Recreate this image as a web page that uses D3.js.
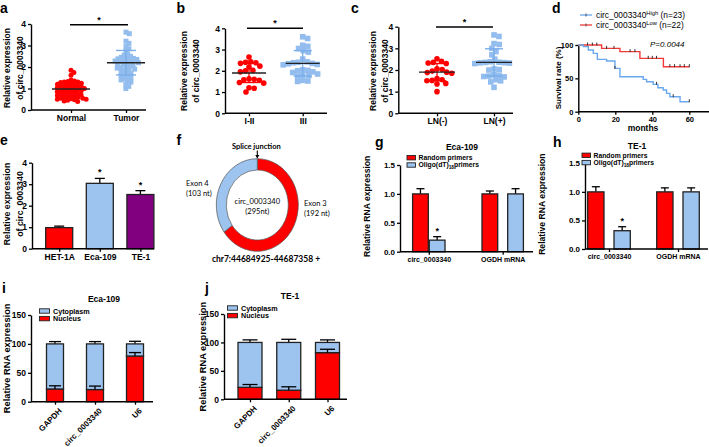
<!DOCTYPE html>
<html><head><meta charset="utf-8">
<script src="https://cdn.jsdelivr.net/npm/d3@7"></script>
<style>
body{margin:0;background:#fff}
svg{display:block}
</style></head><body>
<svg id="c" width="709" height="447"></svg>
<script>
// ---------------- DATA ----------------
// a
const aCats = ["Normal", "Tumor"];
const aNormal = [1.85,1.75,1.62,1.4,1.35,1.32,1.3,1.28,1.25,1.22,1.2,1.18,1.15,1.12,1.1,1.08,1.05,1.03,1.0,1.0,0.98,0.95,0.93,0.9,0.88,0.85,0.82,0.8,0.78,0.75,0.72,0.7,0.68,0.65,0.62,0.6,0.58,0.55,0.52,0.5,0.5,0.48,0.45,0.42,0.4,1.3,1.1,0.9,0.7,0.55];
const aTumor = [3.62,3.55,3.2,3.1,2.95,2.85,2.75,2.6,2.55,2.5,2.45,2.42,2.4,2.38,2.35,2.3,2.28,2.25,2.22,2.2,2.18,2.15,2.1,2.05,2.0,1.98,1.95,1.9,1.85,1.8,1.75,1.7,1.65,1.6,1.55,1.5,1.45,1.4,1.35,1.3,1.2,1.1,1.0,2.3,2.1,1.9];
const aMean = [0.98, 2.2];
const aSD = [0.32, 0.57];
// b
const bCats = ["I-II", "III"];
const bLow = [2.65,2.42,2.4,2.38,2.35,2.22,2.18,2.02,2.0,1.95,1.62,1.6,1.58,1.55,1.45,1.42,1.2,1.18,1.0];
const bHigh = [3.6,3.52,3.2,3.15,3.05,2.95,2.88,2.55,2.42,2.4,2.38,2.35,2.33,2.3,2.28,2.05,2.02,2.0,1.95,1.92,1.85,1.8,1.78,1.75,1.55,1.52,1.5];
const bMean = [1.9, 2.35];
const bSD = [0.45, 0.6];
// c
const cCats = ["LN(-)", "LN(+)"];
const cNeg = [2.52,2.4,2.35,2.32,2.3,2.05,2.02,1.95,1.9,1.88,1.85,1.6,1.55,1.52,1.5,1.38,1.35,1.0];
const cPos = [3.62,3.55,3.22,3.18,3.0,2.85,2.7,2.5,2.38,2.36,2.35,2.34,2.33,2.32,2.3,2.05,2.02,2.0,1.78,1.75,1.72,1.7,1.68,1.55,1.5,1.45,1.2];
const cMean = [1.9, 2.35];
const cSD = [0.4, 0.63];
// d
const kmHighTimes = [0,2.7,5.4,8.1,10.3,15.3,19.8,22.5,35.1,36.9,40.5,43,45.9,47.7,49.5,55];
const kmHighSurv  = [100,97.5,92.5,87.5,78.5,76,65,52.5,48.5,45,41,36,32.5,27.5,22.5,15];
const kmHighCensor = [19.8,42.3,51.3,60];
const kmLowTimes = [0,12.6,22.5,33.3,46];
const kmLowSurv  = [100,95,90,80,67.5];
const kmLowCensor = [5,7.6,10,15.3,19.3,28,30.6,37.8,40,42.3,49.5,52,55,57.3,60];
const kmEnd = 60;
// e
const eCats = ["HET-1A", "Eca-109", "TE-1"];
const eVals = [0.98, 3.04, 2.52];
const eErr = [0.07, 0.23, 0.18];
const eSig = [false, true, true];
// f
const exonNames = ["Exon 3", "Exon 4"];
const exonLen = [192, 103];
// g, h
const rnaCats = ["circ_0003340", "OGDH mRNA"];
const gRandom = [1.0, 1.0], gRandomErr = [0.09, 0.05];
const gOligo = [0.2, 1.0], gOligoErr = [0.06, 0.09];
const hRandom = [1.0, 1.0], hRandomErr = [0.09, 0.07];
const hOligo = [0.32, 1.0], hOligoErr = [0.07, 0.07];
// i, j
const fracCats = ["GAPDH", "circ_0003340", "U6"];
const iNucleus = [22, 21, 79], iNucleusErr = [5.5, 6, 6];
const iCyto = [78, 79, 21], iCytoErr = [4, 4, 4.5];
const jNucleus = [21, 16, 82], jNucleusErr = [5, 6, 6];
const jCyto = [79, 84, 18], jCytoErr = [4.5, 5.5, 4.5];

// ---------------- STYLE ----------------
const F = "'Liberation Sans', Arial, Helvetica, sans-serif";
const FC = "Lato, 'Open Sans', sans-serif";
const RED = "#FF0000", BLUE = "#9DC3EF", PURPLE = "#800080";
const BLUE_PT = "#93BDEE", BLUE_LINE = "#79AEEA";
const KM_BLUE = "#6AA8EE", KM_RED = "#F03A3A";

const svg = d3.select("#c");
svg.append("rect").attr("width",709).attr("height",447).attr("fill","#fff");

function txt(x, y, s, o = {}) {
  return svg.append("text").attr("x", x).attr("y", y).text(s)
    .attr("font-family", o.ff || F).attr("font-size", o.fs || 9)
    .attr("font-weight", o.fw || "normal").attr("text-anchor", o.anchor || "start")
    .attr("font-style", o.style || "normal").attr("fill", o.fill || "#000");
}
function panelLabel(x, y, s) { txt(x, y, s, {fs: 14, fw: "bold"}); }
function yLabel(cx, cy, lines, fs, gap) {
  lines.forEach((l, i) => {
    svg.append("text").attr("transform", `translate(${cx + i * gap},${cy}) rotate(-90)`)
      .attr("text-anchor", "middle").attr("dy", "0.36em").attr("font-family", F)
      .attr("font-size", fs).attr("font-weight", "bold").text(l);
  });
}
function yAxis(x, scale, ticks, fmt, fs) {
  const ax = d3.axisLeft(scale).tickValues(ticks).tickSize(3).tickSizeOuter(0).tickPadding(2);
  if (fmt) ax.tickFormat(fmt);
  const g = svg.append("g").attr("transform", `translate(${x},0)`).call(ax);
  g.attr("font-family", F).attr("font-size", fs).attr("font-weight", "bold");
  g.select(".domain").attr("stroke-width", 1.4);
  g.selectAll(".tick line").attr("stroke-width", 1.3);
  return g;
}
function xAxis(y, x0, x1, scale, fs, rotate) {
  svg.append("line").attr("x1", x0).attr("x2", x1).attr("y1", y).attr("y2", y)
    .attr("stroke", "#000").attr("stroke-width", 1.4);
  const ax = d3.axisBottom(scale).tickSize(3).tickSizeOuter(0).tickPadding(2);
  const g = svg.append("g").attr("transform", `translate(0,${y})`).call(ax);
  g.select(".domain").remove();
  g.attr("font-family", F).attr("font-size", fs).attr("font-weight", "bold");
  g.selectAll(".tick line").attr("stroke-width", 1.3);
  if (rotate) {
    g.selectAll(".tick text").attr("text-anchor", "end").attr("x", -2).attr("y", 9)
      .attr("dy", "0.35em").attr("transform", "rotate(-45)");
  }
  return g;
}
function star(x, y, fs = 10) { txt(x, y + 4, "*", {fs, fw: "bold", anchor: "middle"}); }

// beeswarm layout (deterministic)
function swarm(values, y, d) {
  const pts = values.map(v => ({v, y: y(v), x: 0})).sort((a, b) => a.y - b.y);
  const placed = [];
  for (const p of pts) {
    const cands = [0];
    for (const q of placed) {
      const dy = Math.abs(q.y - p.y);
      if (dy < d) { const dx = Math.sqrt(d * d - dy * dy); cands.push(q.x + dx + 0.01, q.x - dx - 0.01); }
    }
    cands.sort((a, b) => Math.abs(a) - Math.abs(b));
    for (const c of cands) {
      if (placed.every(q => (q.x - c) ** 2 + (q.y - p.y) ** 2 >= d * d - 0.05)) { p.x = c; break; }
    }
    placed.push(p);
  }
  return placed;
}

function scatterPanel(cfg) {
  const y = d3.scaleLinear().domain([0, 4]).range([cfg.y0, cfg.yTop]);
  const x = d3.scalePoint().domain(cfg.cats).range(cfg.centers);
  yAxis(cfg.ax0, y, [0, 1, 2, 3, 4], d3.format("d"), 8.5);
  xAxis(cfg.y0, cfg.ax0, cfg.ax1, x, 8.5);
  const groups = [cfg.g1, cfg.g2];
  groups.forEach((vals, gi) => {
    const cx = x(cfg.cats[gi]);
    const pts = swarm(vals, y, cfg.spacing);
    if (gi === 0) {
      svg.append("g").selectAll("circle").data(pts).join("circle")
        .attr("cx", p => cx + p.x).attr("cy", p => p.y).attr("r", cfg.r).attr("fill", RED);
    } else {
      svg.append("g").selectAll("rect").data(pts).join("rect")
        .attr("x", p => cx + p.x - cfg.r).attr("y", p => p.y - cfg.r)
        .attr("width", cfg.r * 2).attr("height", cfg.r * 2).attr("fill", BLUE_PT);
    }
  });
  groups.forEach((vals, gi) => {
    const cx = x(cfg.cats[gi]);
    const m = cfg.mean[gi], s = cfg.sd[gi];
    const col = gi === 0 ? RED : BLUE_LINE;
    svg.append("line").attr("x1", cx).attr("x2", cx).attr("y1", y(m - s)).attr("y2", y(m + s))
      .attr("stroke", col).attr("stroke-width", 1.3);
    [m - s, m + s].forEach(v => svg.append("line").attr("x1", cx - cfg.sdW / 2).attr("x2", cx + cfg.sdW / 2)
      .attr("y1", y(v)).attr("y2", y(v)).attr("stroke", col).attr("stroke-width", 1.4));
    svg.append("line").attr("x1", cx - cfg.meanW / 2).attr("x2", cx + cfg.meanW / 2)
      .attr("y1", y(m)).attr("y2", y(m)).attr("stroke", "#222").attr("stroke-width", 1.4);
  });
  // significance bar
  svg.append("line").attr("x1", cfg.sig[0]).attr("x2", cfg.sig[1]).attr("y1", cfg.sigY).attr("y2", cfg.sigY)
    .attr("stroke", "#000").attr("stroke-width", 1.4);
  star((cfg.sig[0] + cfg.sig[1]) / 2, cfg.sigY - 6, 9);
  yLabel(cfg.yl[0], cfg.yl[2], ["Relative expression", "of circ_0003340"], 8.5, cfg.yl[1] - cfg.yl[0]);
}

// ---------- a ----------
panelLabel(0, 13, "a");
scatterPanel({cats: aCats, g1: aNormal, g2: aTumor, mean: aMean, sd: aSD,
  y0: 110, yTop: 24, ax0: 31, ax1: 146, centers: [71, 126], spacing: 3.6, r: 2.5,
  sdW: 20, meanW: 38, sig: [70, 128], sigY: 24.7, yl: [6.5, 19.5, 68]});
// ---------- b ----------
panelLabel(176.5, 13, "b");
scatterPanel({cats: bCats, g1: bLow, g2: bHigh, mean: bMean, sd: bSD,
  y0: 113.3, yTop: 28.3, ax0: 225, ax1: 327, centers: [249, 302.7], spacing: 5.2, r: 2.8,
  sdW: 18, meanW: 34, sig: [247, 303], sigY: 28.3, yl: [183.5, 196, 71]});
// ---------- c ----------
panelLabel(351, 13, "c");
scatterPanel({cats: cCats, g1: cNeg, g2: cPos, mean: cMean, sd: cSD,
  y0: 113.3, yTop: 26.7, ax0: 398.3, ax1: 513, centers: [437, 494], spacing: 5.2, r: 2.8,
  sdW: 18, meanW: 36, sig: [436, 493], sigY: 27, yl: [373, 384.5, 71]});

// ---------- d ----------
panelLabel(552, 13, "d");
{
  const x = d3.scaleLinear().domain([0, 60]).range([578.3, 689.3]);
  const y = d3.scaleLinear().domain([0, 100]).range([111.7, 45]);
  yAxis(578.3, y, [0, 50, 100], d3.format("d"), 7.5);
  svg.append("line").attr("x1", 578.3).attr("x2", 709).attr("y1", 111.7).attr("y2", 111.7)
    .attr("stroke", "#000").attr("stroke-width", 1.4);
  const xa = svg.append("g").attr("transform", "translate(0,111.7)")
    .call(d3.axisBottom(x).tickValues([0, 20, 40, 60]).tickSize(3).tickSizeOuter(0).tickPadding(2));
  xa.select(".domain").remove();
  xa.attr("font-family", F).attr("font-size", 7.5).attr("font-weight", "bold");
  xa.selectAll(".tick line").attr("stroke-width", 1.3);
  txt(643, 131, "months", {fs: 8.5, fw: "bold", anchor: "middle"});
  yLabel(558, 78, ["Survival rate (%)"], 8, 0);
  const line = d3.line().curve(d3.curveStepAfter).x(d => x(d[0])).y(d => y(d[1]));
  const sAt = (T, S, t) => { let s = S[0]; T.forEach((tt, i) => { if (tt <= t) s = S[i]; }); return s; };
  [[kmLowTimes, kmLowSurv, kmLowCensor, KM_RED], [kmHighTimes, kmHighSurv, kmHighCensor, KM_BLUE]].forEach(([T, S, C, col]) => {
    const pts = T.map((t, i) => [t, S[i]]).concat([[kmEnd, S[S.length - 1]]]);
    svg.append("path").attr("d", line(pts)).attr("fill", "none").attr("stroke", col).attr("stroke-width", 1.4);
    svg.append("g").selectAll("line").data(C).join("line")
      .attr("x1", t => x(t)).attr("x2", t => x(t))
      .attr("y1", t => y(sAt(T, S, t)) - 2.5).attr("y2", t => y(sAt(T, S, t)) + 0.5)
      .attr("stroke", "#333").attr("stroke-width", 1);
  });
  txt(650, 47, "P=0.0044", {fs: 8, style: "italic"});
  // legend
  [["High", "(n=23)", KM_BLUE, 15], ["Low", "(n=22)", KM_RED, 25]].forEach(([sup, n, col, ly]) => {
    svg.append("line").attr("x1", 580).attr("x2", 592).attr("y1", ly).attr("y2", ly).attr("stroke", col).attr("stroke-width", 1.3);
    svg.append("line").attr("x1", 586).attr("x2", 586).attr("y1", ly - 1.5).attr("y2", ly + 1.5).attr("stroke", "#333").attr("stroke-width", 0.8);
    const t = txt(596, ly + 3, "circ_0003340", {fs: 8.4});
    t.append("tspan").attr("dy", -3).attr("font-size", 5.8).text(sup);
    t.append("tspan").attr("dy", 3).text(" " + n);
  });
}

// ---------- e ----------
panelLabel(0, 145, "e");
{
  const y = d3.scaleLinear().domain([0, 4]).range([248.7, 162.7]);
  const xp = d3.scalePoint().domain(eCats).range([59.2, 140.4]);
  const bw = 27;
  const cols = [RED, BLUE, PURPLE];
  yAxis(32, y, [0, 1, 2, 3, 4], d3.format("d"), 8.5);
  svg.append("g").selectAll("line").data(eCats).join("line")
    .attr("x1", d => xp(d)).attr("x2", d => xp(d))
    .attr("y1", (d, i) => y(eVals[i])).attr("y2", (d, i) => y(eVals[i] + eErr[i]))
    .attr("stroke", "#000").attr("stroke-width", 1.3);
  svg.append("g").selectAll("line").data(eCats).join("line")
    .attr("x1", d => xp(d) - 5).attr("x2", d => xp(d) + 5)
    .attr("y1", (d, i) => y(eVals[i] + eErr[i])).attr("y2", (d, i) => y(eVals[i] + eErr[i]))
    .attr("stroke", "#000").attr("stroke-width", 1.3);
  svg.append("g").selectAll("rect").data(eCats).join("rect")
    .attr("x", d => xp(d) - bw / 2).attr("width", bw)
    .attr("y", (d, i) => y(eVals[i])).attr("height", (d, i) => y(0) - y(eVals[i]))
    .attr("fill", (d, i) => cols[i]).attr("stroke", "#222").attr("stroke-width", 1.3);
  xAxis(248.7, 32, 154, xp, 8.5);
  eCats.forEach((c, i) => { if (eSig[i]) star(xp(c), y(eVals[i] + eErr[i]) - 7, 9); });
  yLabel(7, 204, ["Relative expression", "of circ_0003340"], 8.8, 13);
}

// ---------- f ----------
panelLabel(176.5, 145, "f");
{
  const cx = 257.3, cy = 205;
  const pie = d3.pie().sort(null).value(d => d)(exonLen);
  const arc = d3.arc().innerRadius(31).outerRadius(41);
  const g = svg.append("g").attr("transform", `translate(${cx},${cy}) scale(1,1.13)`);
  g.selectAll("path").data(pie).join("path").attr("d", arc)
    .attr("fill", (d, i) => [RED, BLUE][i]).attr("stroke", "#555").attr("stroke-width", 0.7)
    .attr("vector-effect", "non-scaling-stroke");
  txt(cx - 1, 148.5, "Splice junction", {ff: FC, fs: 7.5, fw: "bold", anchor: "middle"});
  svg.append("line").attr("x1", cx).attr("x2", cx).attr("y1", 150.5).attr("y2", 157.5).attr("stroke", "#000").attr("stroke-width", 1.1);
  svg.append("path").attr("d", `M${cx - 2},${155} L${cx + 2},${155} L${cx},${158.5} Z`).attr("fill", "#000");
  txt(cx, 204, "circ_0003340", {ff: FC, fs: 7.5, anchor: "middle"});
  txt(cx, 214, "(" + d3.sum(exonLen) + "nt)", {ff: FC, fs: 7.5, anchor: "middle"});
  txt(186, 185.5, exonNames[1], {ff: FC, fs: 7.5});
  txt(186, 195.5, "(" + exonLen[1] + " nt)", {ff: FC, fs: 7.5});
  txt(304, 205.5, exonNames[0], {ff: FC, fs: 7.5});
  txt(304, 215.5, "(" + exonLen[0] + " nt)", {ff: FC, fs: 7.5});
  txt(266, 261.5, "chr7:44684925-44687358 +", {ff: FC, fs: 8.5, fw: "bold", anchor: "middle"});
}

// ---------- g / h ----------
function primerPanel(cfg) {
  const y = d3.scaleLinear().domain([0, 1.5]).range([cfg.y0, cfg.yTop]);
  const xp = d3.scalePoint().domain(rnaCats).range(cfg.centers);
  yAxis(cfg.ax0, y, [0, 0.5, 1, 1.5], d3.format(".1f"), 8);
  const series = [[cfg.rnd, cfg.rndErr, RED], [cfg.oli, cfg.oliErr, BLUE]];
  series.forEach(([vals, errs, col], si) => {
    rnaCats.forEach((c, ci) => {
      const off = (cfg.w + cfg.gaps[ci]) / 2 * (si === 0 ? -1 : 1);
      const bx = xp(c) + off;
      const top = y(vals[ci] + errs[ci]);
      svg.append("line").attr("x1", bx).attr("x2", bx).attr("y1", y(vals[ci])).attr("y2", top).attr("stroke", "#000").attr("stroke-width", 1.3);
      svg.append("line").attr("x1", bx - 4).attr("x2", bx + 4).attr("y1", top).attr("y2", top).attr("stroke", "#000").attr("stroke-width", 1.3);
      svg.append("rect").attr("x", bx - cfg.w / 2).attr("width", cfg.w).attr("y", y(vals[ci]))
        .attr("height", y(0) - y(vals[ci])).attr("fill", col).attr("stroke", "#222").attr("stroke-width", 1.3);
      if (si === 1 && vals[ci] < 0.6) star(bx, top - 7, 9);
    });
  });
  xAxis(cfg.y0, cfg.ax0, cfg.ax1, xp, 7);
  const lx = cfg.legX;
  [[RED, "Random primers"], [BLUE, null]].forEach(([col, lab], i) => {
    const ly = cfg.legY + i * 7.3;
    svg.append("rect").attr("x", lx).attr("y", ly - 2.2).attr("width", 8.5).attr("height", 4.4)
      .attr("fill", col).attr("stroke", "#222").attr("stroke-width", 0.9);
    const t = txt(lx + 11.5, ly + 2.4, lab || "Oligo(dT)", {fs: 6.8, fw: "bold"});
    if (!lab) { t.append("tspan").attr("dy", 1.8).attr("font-size", 4.8).text("18"); t.append("tspan").attr("dy", -1.8).text("primers"); }
  });
  txt(cfg.title[0], cfg.title[1], cfg.titleText, {fs: 8.5, fw: "bold", anchor: "middle"});
  yLabel(cfg.ylX, (cfg.y0 + cfg.yTop) / 2 - 2, ["Relative RNA expression"], 8.6, 0);
}
panelLabel(375, 147, "g");
primerPanel({rnd: gRandom, rndErr: gRandomErr, oli: gOligo, oliErr: gOligoErr,
  y0: 251.7, yTop: 165, ax0: 400, ax1: 533, centers: [428.8, 502.7], w: 15.7, gaps: [1, 10],
  legX: 407, legY: 157.7, title: [462, 150], titleText: "Eca-109", ylX: 367});
panelLabel(553, 147, "h");
primerPanel({rnd: hRandom, rndErr: hRandomErr, oli: hOligo, oliErr: hOligoErr,
  y0: 249, yTop: 163.3, ax0: 585, ax1: 708, centers: [609, 678], w: 16.3, gaps: [10, 10],
  legX: 582, legY: 155.3, title: [637, 149], titleText: "TE-1", ylX: 542});

// ---------- i / j ----------
function fracPanel(cfg) {
  const y = d3.scaleLinear().domain([0, 150]).range([cfg.y0, cfg.yTop]);
  const xp = d3.scalePoint().domain(fracCats).range(cfg.centers);
  yAxis(cfg.ax0, y, [0, 50, 100, 150], d3.format("d"), 8.5);
  const stack = d3.stack().keys(["nuc", "cyto"])(fracCats.map((c, i) => ({cat: c, nuc: cfg.nuc[i], cyto: cfg.cyto[i]})));
  const errs = {nuc: cfg.nucErr, cyto: cfg.cytoErr};
  stack.forEach(layer => {
    layer.forEach((d, i) => {
      const cx = xp(fracCats[i]);
      const top = y(d[1] + errs[layer.key][i]);
      svg.append("line").attr("x1", cx).attr("x2", cx).attr("y1", y(d[1])).attr("y2", top).attr("stroke", "#000").attr("stroke-width", 1.3);
      svg.append("line").attr("x1", cx - cfg.cap / 2).attr("x2", cx + cfg.cap / 2).attr("y1", top).attr("y2", top).attr("stroke", "#000").attr("stroke-width", 1.3);
    });
  });
  stack.forEach(layer => {
    layer.forEach((d, i) => {
      const cx = xp(fracCats[i]);
      svg.append("rect").attr("x", cx - cfg.w / 2).attr("width", cfg.w).attr("y", y(d[1])).attr("height", y(d[0]) - y(d[1]))
        .attr("fill", layer.key === "nuc" ? RED : BLUE).attr("stroke", "#222").attr("stroke-width", 1.3);
    });
  });
  stack[0].forEach((d, i) => {
    const cx = xp(fracCats[i]);
    const top = y(d[1] + cfg.nucErr[i]);
    svg.append("line").attr("x1", cx).attr("x2", cx).attr("y1", y(d[1])).attr("y2", top).attr("stroke", "#000").attr("stroke-width", 1.3);
    svg.append("line").attr("x1", cx - cfg.cap / 2).attr("x2", cx + cfg.cap / 2).attr("y1", top).attr("y2", top).attr("stroke", "#000").attr("stroke-width", 1.3);
  });
  xAxis(cfg.y0, cfg.ax0, cfg.ax1, xp, 8, true);
  [[BLUE, "Cytoplasm"], [RED, "Nucleus"]].forEach(([col, lab], i) => {
    const ly = cfg.legY + i * 7.6;
    svg.append("rect").attr("x", cfg.legX).attr("y", ly - 2.2).attr("width", 10).attr("height", 4.4)
      .attr("fill", col).attr("stroke", "#222").attr("stroke-width", 0.9);
    txt(cfg.legX + 13.5, ly + 2.6, lab, {fs: 7.2, fw: "bold"});
  });
  txt(cfg.title[0], cfg.title[1], cfg.titleText, {fs: 8.5, fw: "bold", anchor: "middle"});
  yLabel(cfg.ylX, (cfg.y0 + cfg.yTop) / 2, ["Relative RNA expression"], 9.3, 0);
}
panelLabel(2, 293, "i");
fracPanel({nuc: iNucleus, nucErr: iNucleusErr, cyto: iCyto, cytoErr: iCytoErr,
  y0: 401.7, yTop: 315, ax0: 31, ax1: 153, centers: [55, 135], w: 17, cap: 12,
  legX: 39.5, legY: 311, title: [104, 302], titleText: "Eca-109", ylX: 7});
panelLabel(205, 293, "j");
fracPanel({nuc: jNucleus, nucErr: jNucleusErr, cyto: jCyto, cytoErr: jCytoErr,
  y0: 399.3, yTop: 314, ax0: 224, ax1: 347, centers: [250, 327.5], w: 24, cap: 15,
  legX: 227.5, legY: 308, title: [290, 299], titleText: "TE-1", ylX: 203});
</script>
</body></html>
